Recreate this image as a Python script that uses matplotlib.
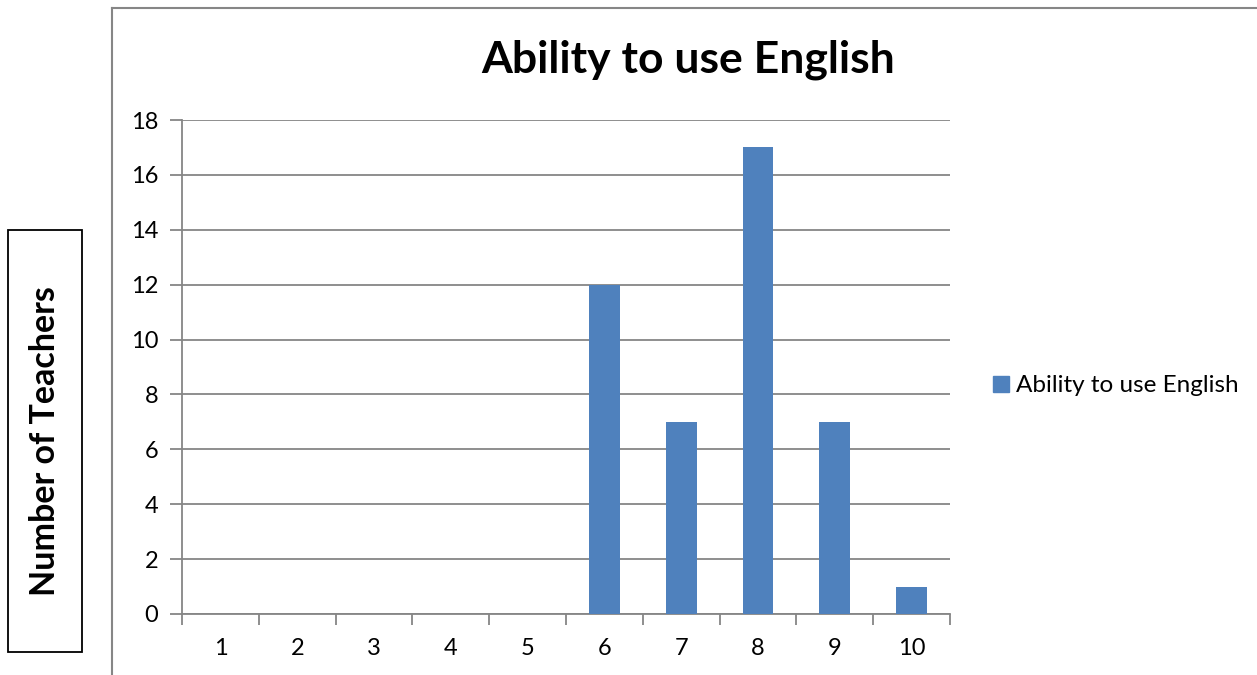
import matplotlib
matplotlib.use('Agg')
import matplotlib.pyplot as plt
from matplotlib.patches import Rectangle
from matplotlib.lines import Line2D

plt.rcParams['font.family'] = ['Lato', 'DejaVu Sans']

# data
categories = [1, 2, 3, 4, 5, 6, 7, 8, 9, 10]
teachers = [0, 0, 0, 0, 0, 12, 7, 17, 7, 1]
series_name = 'Ability to use English'

blue = '#4f81bd'
grey = '#868686'

fig = plt.figure(figsize=(12.57, 6.75), dpi=100)
ax = fig.add_axes([0.1448, 0.0904, 0.6110, 0.7318])

ax.bar(categories, teachers, width=0.4, color=blue, label=series_name, zorder=3)

ax.set_xlim(0.5, 10.5)
ax.set_ylim(0, 18)
ax.set_yticks(range(0, 19, 2))
ax.set_xticks(categories)
ax.set_xticks([c - 0.5 for c in categories] + [10.5], minor=True)
ax.tick_params(axis='x', which='major', length=0, pad=17, labelsize=17)
ax.tick_params(axis='x', which='minor', length=8, color=grey, width=1.3)
ax.tick_params(axis='y', length=9, color=grey, width=1.3, labelsize=17, pad=8)
ax.grid(axis='y', color=grey, linewidth=1.3, zorder=0)

for s in ['top', 'right']:
    ax.spines[s].set_visible(False)
for s in ['left', 'bottom']:
    ax.spines[s].set_color(grey)
    ax.spines[s].set_linewidth(1.3)

fig.text(688 / 1257, 1 - 60 / 675, 'Ability to use English', ha='center', va='center',
         fontsize=32, fontweight='bold')

# legend
fig.legend(handles=[Rectangle((0, 0), 1, 1, color=blue)], labels=[series_name],
           loc='center left', bbox_to_anchor=(993 / 1257, 1 - 386 / 675), frameon=False,
           fontsize=17.5, handlelength=0.64, handleheight=0.64, handletextpad=0.3,
           borderpad=0, borderaxespad=0)

# outer chart border
fig.add_artist(Line2D([112 / 1257, 112 / 1257], [0, 1 - 8 / 675], color=grey, lw=1.5,
                      transform=fig.transFigure))
fig.add_artist(Line2D([112 / 1257, 1], [1 - 8 / 675, 1 - 8 / 675], color=grey, lw=1.5,
                      transform=fig.transFigure))

# y label box
fig.add_artist(Rectangle((8 / 1257, 1 - 652 / 675), 74 / 1257, 422 / 675,
                         transform=fig.transFigure, fill=False, edgecolor='black', lw=1.3))
fig.text(45 / 1257, 1 - 441 / 675, 'Number of Teachers', rotation=90, ha='center',
         va='center', fontsize=24.5, fontweight='bold')

fig.savefig('out.png', dpi=100)
